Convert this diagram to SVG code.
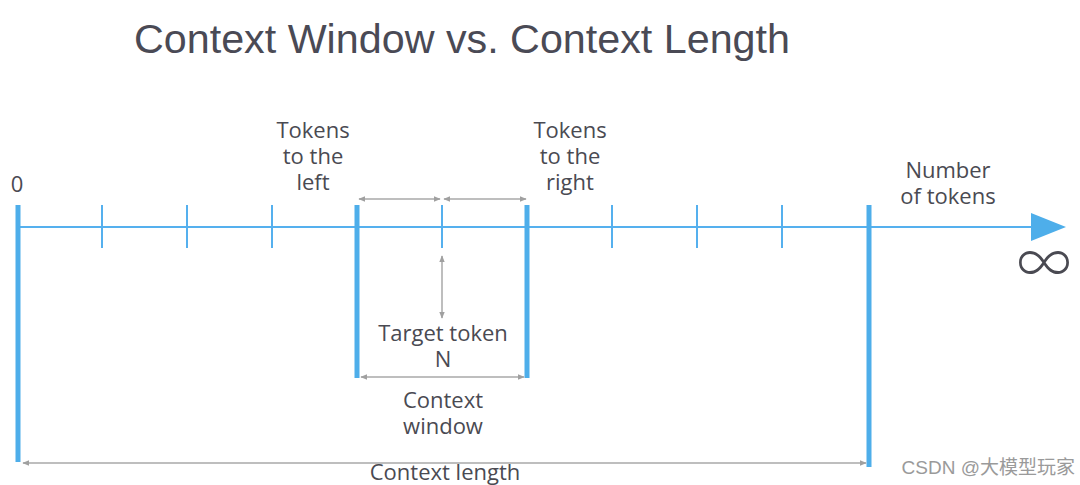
<svg xmlns="http://www.w3.org/2000/svg" width="1080" height="485" viewBox="0 0 1080 485">
<defs>
<marker id="ah" viewBox="0 0 10 10" refX="9" refY="5" markerWidth="7" markerHeight="7" orient="auto-start-reverse" markerUnits="userSpaceOnUse"><path d="M0,1 L10,5 L0,9 z" fill="#a0a0a0"/></marker>
<style>
.t{font-family:"Open Sans","Liberation Sans",sans-serif;fill:#4a4a52;text-anchor:middle;font-size:22px}
.thin{stroke:#55b0ee;stroke-width:2}
.thick{stroke:#4eaeea;stroke-width:5}
.g{stroke:#a8a8a8;stroke-width:1.5;fill:none;marker-start:url(#ah);marker-end:url(#ah)}
</style>
</defs>
<rect width="1080" height="485" fill="#fff"/>
<text x="462" y="53" font-family="'Liberation Sans','Open Sans',sans-serif" font-size="40" fill="#4a4a55" text-anchor="middle" textLength="656" lengthAdjust="spacingAndGlyphs">Context Window vs. Context Length</text>
<g id="axis">
<line class="thin" x1="18" y1="227" x2="1035" y2="227"/>
<path d="M1031,213 L1066,227 L1031,241 z" fill="#4eaeea"/>
</g>
<g id="ticks">
<line class="thin" x1="102" y1="205" x2="102" y2="248"/>
<line class="thin" x1="187" y1="205" x2="187" y2="248"/>
<line class="thin" x1="272" y1="205" x2="272" y2="248"/>
<line class="thin" x1="442" y1="205" x2="442" y2="248"/>
<line class="thin" x1="612" y1="205" x2="612" y2="248"/>
<line class="thin" x1="697" y1="205" x2="697" y2="248"/>
<line class="thin" x1="782" y1="205" x2="782" y2="248"/>
</g>
<g id="bars">
<line class="thick" x1="18" y1="205" x2="18" y2="462"/>
<line class="thick" x1="357" y1="205" x2="357" y2="378"/>
<line class="thick" x1="527" y1="205" x2="527" y2="378"/>
<line class="thick" x1="869" y1="205" x2="869" y2="467"/>
</g>
<g id="connectors">
<line class="g" x1="359" y1="199" x2="440" y2="199"/>
<line class="g" x1="444" y1="199" x2="526" y2="199"/>
<line class="g" x1="442" y1="256" x2="442" y2="318"/>
<line class="g" x1="361" y1="377" x2="524" y2="377"/>
<line class="g" x1="23" y1="463" x2="866" y2="463"/>
</g>
<g id="label-zero"><text class="t" x="17" y="192">0</text></g>
<g id="label-left"><text class="t" x="313" y="138">Tokens</text><text class="t" x="313" y="164">to the</text><text class="t" x="313" y="190">left</text></g>
<g id="label-right"><text class="t" x="570" y="138">Tokens</text><text class="t" x="570" y="164">to the</text><text class="t" x="570" y="190">right</text></g>
<g id="label-number"><text class="t" x="948" y="178">Number</text><text class="t" x="948" y="204">of tokens</text></g>
<g id="label-inf"><text x="1017" y="285" font-family="'Noto Sans CJK SC',sans-serif" font-weight="200" font-size="60" fill="#4a4a52" textLength="54" lengthAdjust="spacingAndGlyphs">∞</text></g>
<g id="label-target"><text class="t" x="443" y="341">Target token</text><text class="t" x="443" y="367">N</text></g>
<g id="label-window"><text class="t" x="443" y="408">Context</text><text class="t" x="443" y="434">window</text></g>
<g id="label-length"><text class="t" x="445" y="480">Context length</text></g>
<text x="1075" y="474" font-family="'Liberation Sans','Noto Sans CJK SC',sans-serif" font-size="19" fill="#9a9a9a" text-anchor="end">CSDN @大模型玩家</text>
</svg>
